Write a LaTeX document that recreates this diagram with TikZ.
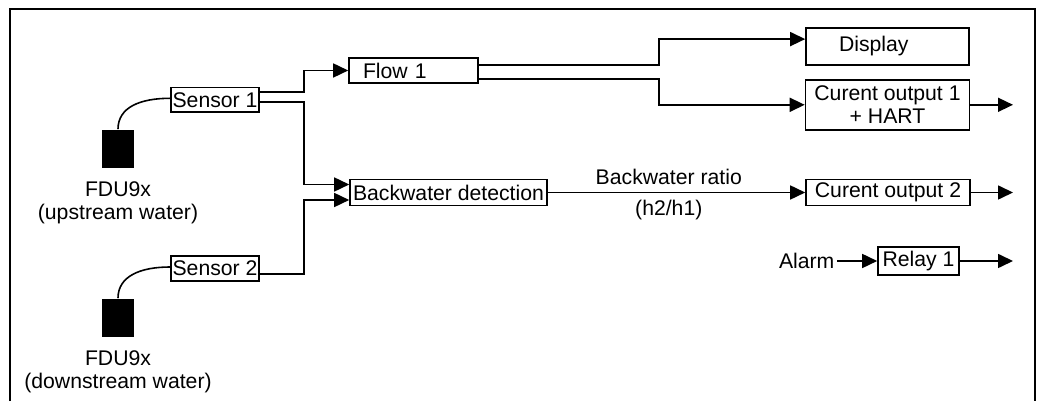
\documentclass[tikz,border=0pt]{standalone}
\usepackage{fontspec}
\setmainfont{Liberation Sans}
\usetikzlibrary{arrows.meta, positioning}

\begin{document}
\begin{tikzpicture}[x=0.5pt, y=0.5pt, ->, >={Triangle[length=7.5pt, width=7pt]}, line width=0.8pt,
    every node/.style={font=\fontsize{10.6}{11.5}\selectfont, align=center},
    box/.style={draw, inner sep=0pt, minimum height=12.5pt},
    probe/.style={fill, inner sep=0pt, minimum width=16pt, minimum height=19pt}]
    \useasboundingbox (0,0) rectangle (1037,401);
    \draw[-, line width=1.2pt] (10,0) -- (10,392) -- (1035,392) -- (1035,0);

    % sensors and probes
    \node (sensor1) [box, minimum width=44pt, minimum height=12.3pt] at (215,301) {Sensor 1};
    \node (sensor2) [box, minimum width=44pt, minimum height=12.3pt] at (215,132.5) {Sensor 2};
    \node (probe1) [probe] at (118,252) {};
    \node (probe2) [probe] at (118,83) {};
    \node (fdu1) [below=6pt of probe1, inner sep=0pt] {FDU9x \\ (upstream water)};
    \node (fdu2) [below=6pt of probe2, inner sep=0pt] {FDU9x \\ (downstream water)};

    % processing
    \node (flow1) [box, minimum width=64.5pt, text width=50.5pt, inner xsep=7pt, align=left] at (413.5,330.5) {Flow 1};
    \node (backwater) [box, minimum width=98.5pt, minimum height=13pt] at (448.5,208.5) {Backwater detection};

    % outputs
    \node (display) [box, minimum width=81.5pt, text width=48.5pt, inner xsep=16.5pt, align=left, minimum height=18.5pt] at (887.5,354.5) {Display};
    \node (cur1) [box, below=6.6pt of display, minimum width=82pt, minimum height=25pt] {Curent output 1 \\ + HART};
    \node (cur2) [box, minimum width=82pt, minimum height=13pt] at (888,208.5) {Curent output 2};
    \node (relay) [box, minimum width=40.5pt, minimum height=14pt] at (918.5,140) {Relay 1};
    \node (alarm) [left=20pt of relay, inner xsep=1pt] {Alarm};

    \coordinate (bus) at (304,0);
    \coordinate (split) at (659,0);
    \coordinate (rim) at (1013,0);
    \coordinate (bw1) at ([yshift=4pt]backwater.west);
    \coordinate (bw2) at ([yshift=-3.75pt]backwater.west);
    \coordinate (dsp) at ([yshift=3.7pt]display.west);

    \draw[-] (probe1.north) .. controls +(0,22) and +(-30,0) .. ([yshift=0.85pt]sensor1.west);
    \draw[-] (probe2.north) .. controls +(0,22) and +(-30,0) .. ([yshift=0.75pt]sensor2.west);

    \draw ([yshift=3.9pt]sensor1.east) -| (bus |- flow1.west) -- (flow1.west);
    \draw ([yshift=-0.9pt]sensor1.east) -| (bus |- bw1) -- (bw1);
    \draw ([yshift=-2.75pt]sensor2.east) -| (bus |- bw2) -- (bw2);
    \draw ([yshift=2.75pt]flow1.east) -| (split |- dsp) -- (dsp);
    \draw ([yshift=-4.25pt]flow1.east) -| (split |- cur1.west) -- (cur1.west);
    \draw (backwater.east) -- node[above, pos=0.47]{Backwater ratio} node[below, pos=0.47]{(h2/h1)} (cur2.west);
    \draw (cur1.east) -- (cur1.east -| rim);
    \draw (cur2.east) -- (cur2.east -| rim);
    \draw (relay.east) -- (relay.east -| rim);
    \draw (alarm) -- (relay);
  \end{tikzpicture}
\end{document}
